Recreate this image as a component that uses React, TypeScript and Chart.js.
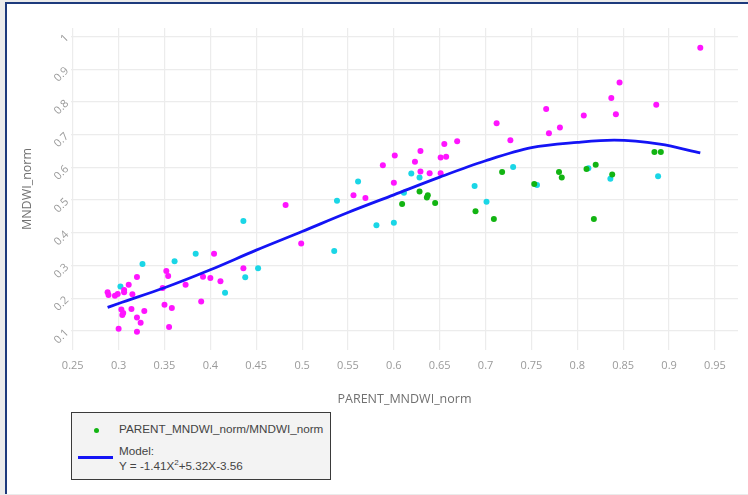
import React, { useEffect, useRef } from "react";
import { Chart, registerables } from "chart.js";

Chart.register(...registerables);

// Scatter groups (x = PARENT_MNDWI_norm, y = MNDWI_norm)
const magentaX = [0.288, 0.289, 0.296, 0.299, 0.306, 0.306, 0.311, 0.315, 0.320, 0.303, 0.304, 0.305, 0.314, 0.320, 0.324, 0.300, 0.320, 0.328, 0.352, 0.354, 0.348, 0.350, 0.358, 0.355, 0.373, 0.390, 0.392, 0.400, 0.404, 0.411, 0.436, 0.482, 0.499, 0.556, 0.569, 0.588, 0.601, 0.600, 0.623, 0.629, 0.629, 0.639, 0.651, 0.651, 0.655, 0.657, 0.669, 0.712, 0.727, 0.766, 0.769, 0.781, 0.807, 0.837, 0.842, 0.846, 0.886, 0.934];
const magentaY = [0.218, 0.210, 0.208, 0.213, 0.225, 0.218, 0.241, 0.212, 0.265, 0.166, 0.149, 0.155, 0.167, 0.141, 0.125, 0.107, 0.098, 0.161, 0.283, 0.268, 0.231, 0.180, 0.170, 0.112, 0.241, 0.190, 0.266, 0.262, 0.336, 0.252, 0.292, 0.485, 0.367, 0.515, 0.506, 0.606, 0.636, 0.553, 0.617, 0.650, 0.587, 0.582, 0.630, 0.582, 0.671, 0.632, 0.680, 0.735, 0.683, 0.778, 0.704, 0.722, 0.758, 0.812, 0.762, 0.859, 0.791, 0.965];

const cyanX = [0.302, 0.326, 0.361, 0.384, 0.416, 0.436, 0.438, 0.452, 0.535, 0.538, 0.561, 0.581, 0.600, 0.611, 0.619, 0.628, 0.688, 0.701, 0.730, 0.756, 0.812, 0.836, 0.888];
const cyanY = [0.236, 0.305, 0.313, 0.336, 0.217, 0.436, 0.264, 0.292, 0.344, 0.498, 0.557, 0.423, 0.431, 0.522, 0.581, 0.569, 0.543, 0.495, 0.601, 0.546, 0.597, 0.565, 0.573];

const greenX = [0.609, 0.628, 0.637, 0.636, 0.645, 0.689, 0.709, 0.718, 0.753, 0.780, 0.783, 0.810, 0.820, 0.818, 0.838, 0.884, 0.891];
const greenY = [0.488, 0.526, 0.515, 0.508, 0.491, 0.466, 0.442, 0.586, 0.549, 0.586, 0.569, 0.595, 0.608, 0.442, 0.578, 0.647, 0.647];

// Model curve
const modelX = [0.288, 0.30, 0.35, 0.40, 0.45, 0.50, 0.55, 0.60, 0.65, 0.70, 0.75, 0.80, 0.84, 0.89, 0.934];
const modelY = [0.172, 0.184, 0.232, 0.287, 0.347, 0.404, 0.462, 0.516, 0.570, 0.620, 0.660, 0.676, 0.683, 0.671, 0.644];

const xRange = [0.2481, 0.9751];
const yRange = [0.0419, 1.0257];
const xStep = 0.05;
const yStep = 0.1;

const seriesLabel = "PARENT_MNDWI_norm/MNDWI_norm";
const modelLabel = "Model:";
const xTitle = "PARENT_MNDWI_norm";
const yTitle = "MNDWI_norm";

const zip = (xs: number[], ys: number[]) => xs.map((x, i) => ({ x, y: ys[i] }));
const fmt = (v: number) => String(Number(Number(v).toFixed(2)));

export default function App() {
  const ref = useRef<HTMLCanvasElement | null>(null);

  useEffect(() => {
    if (!ref.current) return;
    const tickFont = { family: "'Open Sans', sans-serif", size: 11 };
    const titleFont = { family: "'Open Sans', sans-serif", size: 12.5 };
    const chart = new Chart(ref.current, {
      type: "scatter",
      data: {
        datasets: [
          {
            type: "line",
            label: modelLabel,
            data: zip(modelX, modelY),
            borderColor: "#1414f5",
            borderWidth: 2.8,
            pointRadius: 0,
            tension: 0.35,
            cubicInterpolationMode: "monotone",
            fill: false,
            order: 0,
          } as any,
          {
            label: seriesLabel,
            data: zip(greenX, greenY),
            backgroundColor: "#12b412",
            pointRadius: 3,
            borderWidth: 0,
            order: 1,
          },
          {
            label: seriesLabel,
            data: zip(magentaX, magentaY),
            backgroundColor: "#ff14ff",
            pointRadius: 3,
            borderWidth: 0,
            order: 2,
          },
          {
            label: seriesLabel,
            data: zip(cyanX, cyanY),
            backgroundColor: "#1ad6e6",
            pointRadius: 3,
            borderWidth: 0,
            order: 3,
          },
        ],
      },
      options: {
        responsive: false,
        animation: false,
        devicePixelRatio: 1,
        layout: { padding: { left: 0, top: 28, right: 10, bottom: 85 } },
        plugins: { legend: { display: false }, tooltip: { enabled: false } },
        scales: {
          x: {
            type: "linear",
            min: xRange[0],
            max: xRange[1],
            afterFit: (s: any) => { s.height = 60; },
            border: { display: false },
            grid: { color: "#ececec", lineWidth: 1.2, drawTicks: false },
            ticks: {
              stepSize: xStep,
              includeBounds: false,
              autoSkip: false,
              maxRotation: 0,
              minRotation: 0,
              padding: 9,
              color: "#9a9a9a",
              font: tickFont,
              callback: (v: any) => fmt(v),
            },
            title: {
              display: true,
              text: xTitle,
              color: "#707070",
              font: titleFont,
              padding: { top: 0, bottom: 3 },
            },
          },
          y: {
            type: "linear",
            min: yRange[0],
            max: yRange[1],
            afterFit: (s: any) => { s.width = 71; },
            border: { display: false },
            grid: { color: "#ececec", lineWidth: 1.2, drawTicks: false },
            ticks: {
              stepSize: yStep,
              includeBounds: false,
              minRotation: 45,
              maxRotation: 45,
              padding: 4,
              color: "#9a9a9a",
              font: tickFont,
              callback: (v: any) => fmt(v),
            },
            title: {
              display: true,
              text: yTitle,
              color: "#707070",
              font: titleFont,
              padding: { top: 20, bottom: 0 },
            },
          },
        },
      } as any,
    });
    return () => chart.destroy();
  }, []);

  return (
    <div
      style={{
        position: "fixed",
        left: 0,
        top: 0,
        width: 748,
        height: 495,
        background: "#ebebeb",
        overflow: "hidden",
      }}
    >
      <div
        style={{
          position: "absolute",
          left: 5,
          top: 2,
          width: 741,
          height: 490,
          background: "#ffffff",
          borderLeft: "2px solid #1d3a7c",
          borderTop: "2px solid #1d3a7c",
        }}
      />
      <canvas
        ref={ref}
        width={748}
        height={495}
        style={{ position: "absolute", left: 0, top: 0, width: 748, height: 495 }}
      />
      <div
        style={{
          position: "absolute",
          left: 71,
          top: 412,
          width: 258,
          height: 66,
          background: "#f3f3f3",
          border: "1px solid #3a3a3a",
          fontFamily: "'Liberation Sans', Arial, sans-serif",
          fontSize: 11.7,
          color: "#444",
        }}
      >
        <div
          style={{
            position: "absolute",
            left: 22,
            top: 15,
            width: 5,
            height: 5,
            borderRadius: "50%",
            background: "#12b412",
          }}
        />
        <div style={{ position: "absolute", left: 47, top: 9, whiteSpace: "nowrap" }}>
          {seriesLabel}
        </div>
        <div
          style={{
            position: "absolute",
            left: 6,
            top: 43,
            width: 35,
            height: 2.5,
            background: "#1414f5",
          }}
        />
        <div style={{ position: "absolute", left: 47, top: 31, whiteSpace: "nowrap", lineHeight: "14.5px" }}>
          <div>{modelLabel}</div>
          <div>
            Y = -1.41X<sup style={{ fontSize: 8, verticalAlign: "top", lineHeight: "8px" }}>2</sup>+5.32X-3.56
          </div>
        </div>
      </div>
    </div>
  );
}
